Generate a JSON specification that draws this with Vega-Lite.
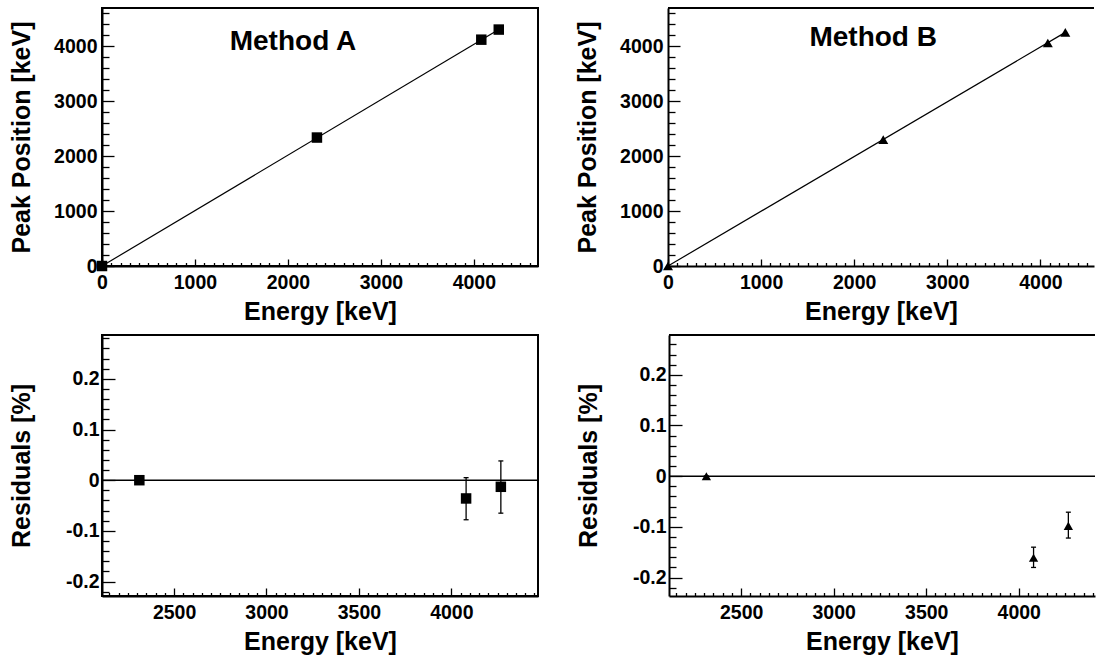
{
  "$schema": "https://vega.github.io/schema/vega-lite/v6.json",
  "padding": {"left": 8, "top": 7, "right": 0, "bottom": 0},
  "background": "white",
  "config": {
    "font": "Liberation Sans",
    "axis": {
      "labelFont": "Liberation Sans", "labelFontWeight": "bold", "labelColor": "black",
      "titleFont": "Liberation Sans", "titleFontSize": 25, "titleFontWeight": "bold", "titleColor": "black",
      "tickColor": "black", "tickWidth": 1.3, "domainColor": "black", "domainWidth": 2, "tickCount": 500,
      "grid": false, "labelOverlap": false, "labelFlush": false, "labelBound": false
    },
    "view": {"stroke": "black", "strokeWidth": 2}
  },
  "datasets": {
    "calA": [{"energy": 0, "peak": 0}, {"energy": 2312, "peak": 2340}, {"energy": 4080, "peak": 4123}, {"energy": 4268, "peak": 4307}],
    "calB": [{"energy": 0, "peak": 0}, {"energy": 2312, "peak": 2302}, {"energy": 4080, "peak": 4063}, {"energy": 4268, "peak": 4256}],
    "fitA": [{"energy": 0, "peak": 0}, {"energy": 4268, "peak": 4307}],
    "fitB": [{"energy": 0, "peak": 0}, {"energy": 4268, "peak": 4256}],
    "resA": [{"energy": 2312, "res": 0, "lo": 0, "hi": 0}, {"energy": 4080, "res": -0.036, "lo": -0.078, "hi": 0.005}, {"energy": 4268, "res": -0.013, "lo": -0.065, "hi": 0.038}],
    "resB": [{"energy": 2312, "res": 0, "lo": 0, "hi": 0}, {"energy": 4080, "res": -0.161, "lo": -0.18, "hi": -0.14}, {"energy": 4268, "res": -0.098, "lo": -0.122, "hi": -0.071}]
  },
  "spacing": 8,
  "vconcat": [
    {
      "spacing": 36,
      "hconcat": [
        {
          "width": 436, "height": 258,
          "view": {"stroke": "black", "strokeWidth": 2},
          "layer": [
            {
              "data": {"name": "fitA"},
              "mark": {"type": "line", "color": "black", "strokeWidth": 1.2},
              "encoding": {
                "x": {"field": "energy", "type": "quantitative", "scale": {"domain": [0, 4690], "nice": false, "zero": false},
                  "axis": {"title": "Energy [keV]", "tickCount": 500, "values": [0,100,200,300,400,500,600,700,800,900,1000,1100,1200,1300,1400,1500,1600,1700,1800,1900,2000,2100,2200,2300,2400,2500,2600,2700,2800,2900,3000,3100,3200,3300,3400,3500,3600,3700,3800,3900,4000,4100,4200,4300,4400,4500,4600],
                    "labelExpr": "datum.value % 1000 === 0 ? '' + datum.value : ''",
                    "labelFontSize": {"condition": {"test": "datum.value % 1000 === 0", "value": 19.5}, "value": 0.1},
                    "tickSize": {"condition": {"test": "datum.value % 1000 === 0", "value": -7}, "value": -3.5},
                    "labelPadding": 14.5, "minExtent": 25, "maxExtent": 25, "titlePadding": 8.3}},
                "y": {"field": "peak", "type": "quantitative", "scale": {"domain": [0, 4700], "nice": false, "zero": false},
                  "axis": {"title": "Peak Position [keV]", "tickCount": 500, "values": [0,200,400,600,800,1000,1200,1400,1600,1800,2000,2200,2400,2600,2800,3000,3200,3400,3600,3800,4000,4200,4400,4600],
                    "labelExpr": "datum.value % 1000 === 0 ? '' + datum.value : ''",
                    "labelFontSize": {"condition": {"test": "datum.value % 1000 === 0", "value": 19.5}, "value": 0.1},
                    "tickSize": {"condition": {"test": "datum.value % 1000 === 0", "value": -12}, "value": -7},
                    "labelPadding": 17, "minExtent": 60, "maxExtent": 60, "titlePadding": 7.4}}
              }
            },
            {
              "data": {"name": "calA"},
              "mark": {"type": "point", "shape": "square", "filled": true, "color": "black", "opacity": 1, "size": 110},
              "encoding": {"x": {"field": "energy", "type": "quantitative"}, "y": {"field": "peak", "type": "quantitative"}}
            },
            {
              "data": {"values": [{"label": "Method A"}]},
              "mark": {"type": "text", "font": "Liberation Sans", "fontSize": 28, "fontWeight": "bold", "color": "black", "align": "center", "baseline": "alphabetic"},
              "encoding": {"text": {"field": "label"}, "x": {"datum": 2054}, "y": {"datum": 3940}}
            }
          ]
        },
        {
          "width": 426, "height": 258,
          "view": {"stroke": null},
          "layer": [
            {
              "data": {"name": "fitB"},
              "mark": {"type": "line", "color": "black", "strokeWidth": 1.2},
              "encoding": {
                "x": {"field": "energy", "type": "quantitative", "scale": {"domain": [0, 4576], "nice": false, "zero": false},
                  "axis": {"title": "Energy [keV]", "tickCount": 500, "values": [0,100,200,300,400,500,600,700,800,900,1000,1100,1200,1300,1400,1500,1600,1700,1800,1900,2000,2100,2200,2300,2400,2500,2600,2700,2800,2900,3000,3100,3200,3300,3400,3500,3600,3700,3800,3900,4000,4100,4200,4300,4400,4500],
                    "labelExpr": "datum.value % 1000 === 0 ? '' + datum.value : ''",
                    "labelFontSize": {"condition": {"test": "datum.value % 1000 === 0", "value": 19.5}, "value": 0.1},
                    "tickSize": {"condition": {"test": "datum.value % 1000 === 0", "value": -7}, "value": -3.5},
                    "labelPadding": 14.5, "minExtent": 25, "maxExtent": 25, "titlePadding": 8.3}},
                "y": {"field": "peak", "type": "quantitative", "scale": {"domain": [0, 4700], "nice": false, "zero": false},
                  "axis": {"title": "Peak Position [keV]", "tickCount": 500, "values": [0,200,400,600,800,1000,1200,1400,1600,1800,2000,2200,2400,2600,2800,3000,3200,3400,3600,3800,4000,4200,4400,4600],
                    "labelExpr": "datum.value % 1000 === 0 ? '' + datum.value : ''",
                    "labelFontSize": {"condition": {"test": "datum.value % 1000 === 0", "value": 19.5}, "value": 0.1},
                    "tickSize": {"condition": {"test": "datum.value % 1000 === 0", "value": -12}, "value": -7},
                    "labelPadding": 17, "minExtent": 60, "maxExtent": 60, "titlePadding": 7.4}}
              }
            },
            {
              "data": {"name": "calB"},
              "transform": [{"aggregate": [{"op": "count", "as": "n"}]}],
              "mark": {"type": "rule", "color": "black", "strokeWidth": 2},
              "encoding": {"y": {"datum": 4700}}
            },
            {
              "data": {"name": "calB"},
              "mark": {"type": "point", "shape": "triangle-up", "filled": true, "color": "black", "opacity": 1, "size": 100},
              "encoding": {"x": {"field": "energy", "type": "quantitative"}, "y": {"field": "peak", "type": "quantitative"}}
            },
            {
              "data": {"values": [{"label": "Method B"}]},
              "mark": {"type": "text", "font": "Liberation Sans", "fontSize": 28, "fontWeight": "bold", "color": "black", "align": "center", "baseline": "alphabetic"},
              "encoding": {"text": {"field": "label"}, "x": {"datum": 2204}, "y": {"datum": 4013}}
            }
          ]
        }
      ]
    },
    {
      "spacing": 36,
      "hconcat": [
        {
          "width": 436, "height": 261,
          "view": {"stroke": "black", "strokeWidth": 2},
          "layer": [
            {
              "data": {"name": "resA"},
              "transform": [{"aggregate": [{"op": "count", "as": "n"}]}],
              "mark": {"type": "rule", "color": "black", "strokeWidth": 1.4},
              "encoding": {"y": {"datum": 0}}
            },
            {
              "data": {"name": "resA"},
              "mark": {"type": "rule", "color": "black", "strokeWidth": 1.3},
              "encoding": {
                "x": {"field": "energy", "type": "quantitative", "scale": {"domain": [2110, 4469], "nice": false, "zero": false},
                  "axis": {"title": "Energy [keV]", "tickCount": 500, "values": [2150,2200,2250,2300,2350,2400,2450,2500,2550,2600,2650,2700,2750,2800,2850,2900,2950,3000,3050,3100,3150,3200,3250,3300,3350,3400,3450,3500,3550,3600,3650,3700,3750,3800,3850,3900,3950,4000,4050,4100,4150,4200,4250,4300,4350,4400,4450],
                    "labelExpr": "datum.value % 500 === 0 ? '' + datum.value : ''",
                    "labelFontSize": {"condition": {"test": "datum.value % 500 === 0", "value": 19.5}, "value": 0.1},
                    "tickSize": {"condition": {"test": "datum.value % 500 === 0", "value": -8}, "value": -3.5},
                    "labelPadding": 15.5, "minExtent": 25, "maxExtent": 25, "titlePadding": 8.3}},
                "y": {"field": "lo", "type": "quantitative", "scale": {"domain": [-0.2284, 0.2864], "nice": false, "zero": false},
                  "axis": {"title": "Residuals [%]", "tickCount": 500, "values": [-0.22,-0.2,-0.18,-0.16,-0.14,-0.12,-0.1,-0.08,-0.06,-0.04,-0.02,0,0.02,0.04,0.06,0.08,0.1,0.12,0.14,0.16,0.18,0.2,0.22,0.24,0.26,0.28],
                    "labelExpr": "abs(datum.value*10 - round(datum.value*10)) < 0.001 ? (round(datum.value*10) == 0 ? '0' : (datum.value < 0 ? '-' : '') + format(abs(datum.value), '.1f')) : ''",
                    "labelFontSize": {"condition": {"test": "abs(datum.value*10 - round(datum.value*10)) < 0.001", "value": 19.5}, "value": 0.1},
                    "tickSize": {"condition": {"test": "abs(datum.value*10 - round(datum.value*10)) < 0.001", "value": -13}, "value": -7},
                    "labelPadding": 16, "minExtent": 60, "maxExtent": 60, "titlePadding": 7.4}},
                "y2": {"field": "hi"}
              }
            },
            {
              "data": {"name": "resA"},
              "mark": {"type": "tick", "orient": "horizontal", "color": "black", "size": 5, "thickness": 1.3, "opacity": 1},
              "encoding": {"x": {"field": "energy", "type": "quantitative"}, "y": {"field": "lo", "type": "quantitative"}}
            },
            {
              "data": {"name": "resA"},
              "mark": {"type": "tick", "orient": "horizontal", "color": "black", "size": 5, "thickness": 1.3, "opacity": 1},
              "encoding": {"x": {"field": "energy", "type": "quantitative"}, "y": {"field": "hi", "type": "quantitative"}}
            },
            {
              "data": {"name": "resA"},
              "mark": {"type": "point", "shape": "square", "filled": true, "color": "black", "opacity": 1, "size": 110},
              "encoding": {"x": {"field": "energy", "type": "quantitative"}, "y": {"field": "res", "type": "quantitative"}}
            }
          ]
        },
        {
          "width": 426, "height": 261,
          "view": {"stroke": null},
          "layer": [
            {
              "data": {"name": "resB"},
              "transform": [{"aggregate": [{"op": "count", "as": "n"}]}],
              "mark": {"type": "rule", "color": "black", "strokeWidth": 1.4},
              "encoding": {"y": {"datum": 0}}
            },
            {
              "data": {"name": "resB"},
              "transform": [{"aggregate": [{"op": "count", "as": "n"}]}],
              "mark": {"type": "rule", "color": "black", "strokeWidth": 2},
              "encoding": {"y": {"datum": 0.2785}}
            },
            {
              "data": {"name": "resB"},
              "mark": {"type": "rule", "color": "black", "strokeWidth": 1.3},
              "encoding": {
                "x": {"field": "energy", "type": "quantitative", "scale": {"domain": [2110, 4412], "nice": false, "zero": false},
                  "axis": {"title": "Energy [keV]", "tickCount": 500, "values": [2150,2200,2250,2300,2350,2400,2450,2500,2550,2600,2650,2700,2750,2800,2850,2900,2950,3000,3050,3100,3150,3200,3250,3300,3350,3400,3450,3500,3550,3600,3650,3700,3750,3800,3850,3900,3950,4000,4050,4100,4150,4200,4250,4300,4350,4400],
                    "labelExpr": "datum.value % 500 === 0 ? '' + datum.value : ''",
                    "labelFontSize": {"condition": {"test": "datum.value % 500 === 0", "value": 19.5}, "value": 0.1},
                    "tickSize": {"condition": {"test": "datum.value % 500 === 0", "value": -8}, "value": -3.5},
                    "labelPadding": 15.5, "minExtent": 25, "maxExtent": 25, "titlePadding": 8.3}},
                "y": {"field": "lo", "type": "quantitative", "scale": {"domain": [-0.2363, 0.2785], "nice": false, "zero": false},
                  "axis": {"title": "Residuals [%]", "tickCount": 500, "values": [-0.22,-0.2,-0.18,-0.16,-0.14,-0.12,-0.1,-0.08,-0.06,-0.04,-0.02,0,0.02,0.04,0.06,0.08,0.1,0.12,0.14,0.16,0.18,0.2,0.22,0.24,0.26],
                    "labelExpr": "abs(datum.value*10 - round(datum.value*10)) < 0.001 ? (round(datum.value*10) == 0 ? '0' : (datum.value < 0 ? '-' : '') + format(abs(datum.value), '.1f')) : ''",
                    "labelFontSize": {"condition": {"test": "abs(datum.value*10 - round(datum.value*10)) < 0.001", "value": 19.5}, "value": 0.1},
                    "tickSize": {"condition": {"test": "abs(datum.value*10 - round(datum.value*10)) < 0.001", "value": -13}, "value": -7},
                    "labelPadding": 16, "minExtent": 60, "maxExtent": 60, "titlePadding": 7.4}},
                "y2": {"field": "hi"}
              }
            },
            {
              "data": {"name": "resB"},
              "mark": {"type": "tick", "orient": "horizontal", "color": "black", "size": 5, "thickness": 1.3, "opacity": 1},
              "encoding": {"x": {"field": "energy", "type": "quantitative"}, "y": {"field": "lo", "type": "quantitative"}}
            },
            {
              "data": {"name": "resB"},
              "mark": {"type": "tick", "orient": "horizontal", "color": "black", "size": 5, "thickness": 1.3, "opacity": 1},
              "encoding": {"x": {"field": "energy", "type": "quantitative"}, "y": {"field": "hi", "type": "quantitative"}}
            },
            {
              "data": {"name": "resB"},
              "mark": {"type": "point", "shape": "triangle-up", "filled": true, "color": "black", "opacity": 1, "size": 87},
              "encoding": {"x": {"field": "energy", "type": "quantitative"}, "y": {"field": "res", "type": "quantitative"}}
            }
          ]
        }
      ]
    }
  ]
}
